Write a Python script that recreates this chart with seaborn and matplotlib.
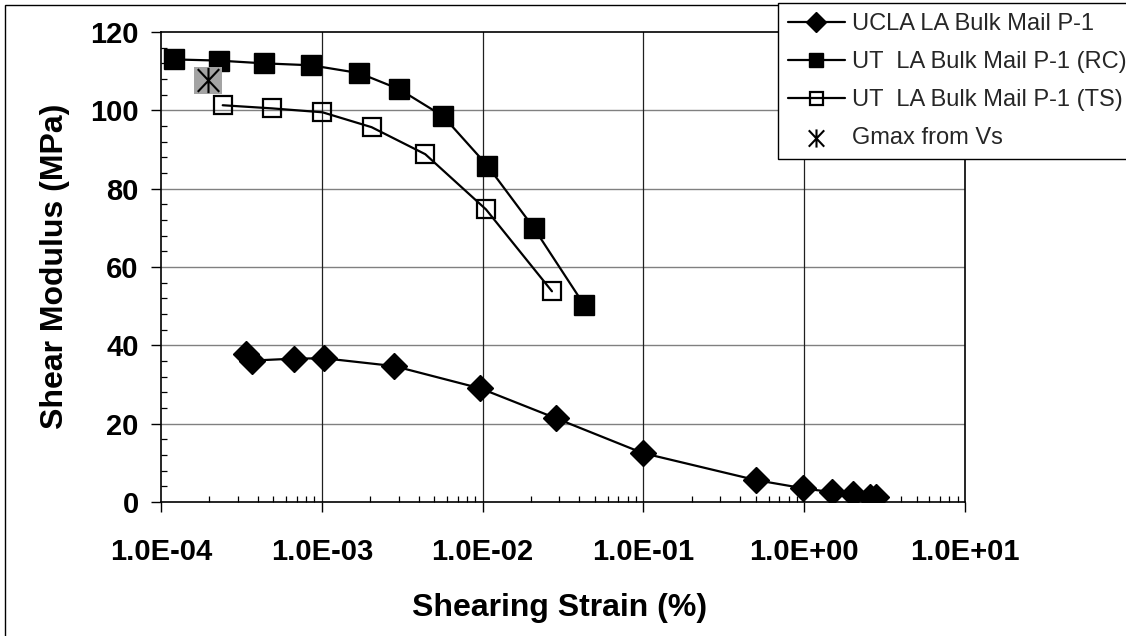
import numpy as np
import pandas as pd
import matplotlib
matplotlib.use("Agg")
import matplotlib.pyplot as plt
import matplotlib.ticker as mticker
from matplotlib.path import Path
from matplotlib.patches import Rectangle
import seaborn as sns

# ---- data -------------------------------------------------------------
ucla_strain = [3.4e-4, 3.66e-4, 6.7e-4, 1.03e-3, 2.82e-3, 9.7e-3, 2.85e-2,
               0.099, 0.50, 0.99, 1.48, 2.0, 2.55, 2.8]
ucla_G = [37.7, 36.1, 36.6, 36.7, 34.7, 29.0, 21.4, 12.5, 5.6, 3.5, 2.5,
          2.0, 1.4, 1.4]

rc_strain = [1.21e-4, 2.28e-4, 4.35e-4, 8.6e-4, 1.71e-3, 3.03e-3, 5.68e-3,
             1.07e-2, 2.08e-2, 4.3e-2]
rc_G = [113.0, 112.7, 112.0, 111.5, 109.5, 105.4, 98.5, 85.9, 70.0, 50.2]

ts_strain = [2.42e-4, 4.9e-4, 1.01e-3, 2.04e-3, 4.4e-3, 1.05e-2, 2.7e-2]
ts_G = [101.3, 100.5, 99.5, 95.7, 88.8, 74.7, 53.8]

gmax_strain = [1.96e-4]
gmax_G = [107.7]

labels = ["UCLA LA Bulk Mail P-1",
          "UT  LA Bulk Mail P-1 (RC)",
          "UT  LA Bulk Mail P-1 (TS)",
          "Gmax from Vs"]

x_major = [1e-4, 1e-3, 1e-2, 1e-1, 1e0, 1e1]
y_major = [0, 20, 40, 60, 80, 100, 120]

# ---- style ------------------------------------------------------------
sns.set_theme(style="white")
plt.rcParams["font.family"] = ["Liberation Sans", "DejaVu Sans"]

fig = plt.figure(figsize=(11.26, 6.36), dpi=100)
ax = fig.add_axes([161 / 1126, 1 - 502 / 636, 804 / 1126, 470 / 636])

# outer chart frame
fig.add_artist(Rectangle((5 / 1126, -0.1), 2.0, 1.1 - 5 / 636,
                         transform=fig.transFigure, fill=False,
                         edgecolor="black", linewidth=1.0, zorder=-1))

line_kw = dict(color="black", linewidth=1.6, sort=False, estimator=None)

sns.lineplot(x=ucla_strain, y=ucla_G, marker="D", markersize=13.5,
             markerfacecolor="black", markeredgecolor="black",
             markeredgewidth=1.0, label=labels[0], ax=ax, zorder=3, **line_kw)
sns.lineplot(x=rc_strain, y=rc_G, marker="s", markersize=14,
             markerfacecolor="black", markeredgecolor="black",
             markeredgewidth=1.0, label=labels[1], ax=ax, zorder=3, **line_kw)
sns.lineplot(x=ts_strain, y=ts_G, marker="s", markersize=13,
             markerfacecolor="none", markeredgecolor="black",
             markeredgewidth=1.6, label=labels[2], ax=ax, zorder=3, **line_kw)

# shaded background square behind the Gmax point
sns.scatterplot(x=gmax_strain, y=gmax_G, marker="s", s=380,
                color="#a3a3a3", edgecolor="none", linewidth=0,
                legend=False, ax=ax, zorder=3)

# asterisk marker for Gmax
star = Path([(0, -1), (0, 1), (-0.85, -0.9), (0.85, 0.9),
             (-0.85, 0.9), (0.85, -0.9)],
            [Path.MOVETO, Path.LINETO, Path.MOVETO, Path.LINETO,
             Path.MOVETO, Path.LINETO])
sns.scatterplot(x=gmax_strain, y=gmax_G, marker=star, s=330,
                color="black", edgecolor="black", linewidth=1.5,
                label=labels[3], ax=ax, zorder=4)

# ---- axes -------------------------------------------------------------
ax.set_xscale("log")
ax.set_xlim(1e-4, 1e1)
ax.set_ylim(0, 120)
ax.xaxis.set_major_locator(mticker.FixedLocator(x_major))
ax.xaxis.set_minor_locator(mticker.LogLocator(base=10, subs=np.arange(2, 10)))
ax.xaxis.set_minor_formatter(mticker.NullFormatter())
ax.xaxis.set_major_formatter(mticker.FuncFormatter(lambda v, p: f"{v:.1E}"))
ax.yaxis.set_major_locator(mticker.FixedLocator(y_major))
ax.yaxis.set_minor_locator(mticker.MultipleLocator(4))

ax.grid(False)
for yv in y_major[1:-1]:
    ax.axhline(yv, color="#808080", linewidth=1.0, zorder=1)
for xv in x_major[1:-1]:
    ax.axvline(xv, color="#202020", linewidth=0.9, zorder=1)

for sp in ax.spines.values():
    sp.set_color("black")
    sp.set_linewidth(1.2)

ax.tick_params(axis="both", which="major", direction="out", length=7,
               width=1.0, color="black", labelsize=21, labelcolor="black")
ax.tick_params(axis="x", which="major", pad=19)
ax.tick_params(axis="y", which="major", pad=9)
ax.tick_params(axis="both", which="minor", direction="in", length=4.3,
               width=0.9, color="black")
ax.tick_params(top=False, right=False, which="both")
ax.tick_params(left=True, bottom=True, which="both")
for lab in ax.get_xticklabels() + ax.get_yticklabels():
    lab.set_fontweight("bold")

ax.set_xlabel("Shearing Strain (%)", fontsize=23, fontweight="bold",
              color="black")
ax.set_ylabel("Shear Modulus (MPa)", fontsize=23, fontweight="bold",
              color="black")
ax.xaxis.label.set_va("center")
ax.yaxis.label.set_va("center")
ax.xaxis.set_label_coords((560 - 161) / 804, (502 - 608) / 470)
ax.yaxis.set_label_coords((55 - 161) / 804, (502 - 266) / 470)

# ---- legend -----------------------------------------------------------
handles, labs = ax.get_legend_handles_labels()
order = [labs.index(l) for l in labels]
leg = ax.legend([handles[i] for i in order], [labs[i] for i in order],
                loc="upper left", bbox_to_anchor=(778 / 1126, 1 - 3 / 636),
                bbox_transform=fig.transFigure, borderaxespad=0,
                fontsize=17, frameon=True, fancybox=False, shadow=False,
                framealpha=1, edgecolor="black", facecolor="white",
                borderpad=0.42, handlelength=2.4, handletextpad=0.3,
                labelspacing=0.68, markerscale=0.72)
leg.get_frame().set_linewidth(1.0)
leg.set_zorder(10)

fig.savefig("out.png", dpi=100, facecolor="white")
